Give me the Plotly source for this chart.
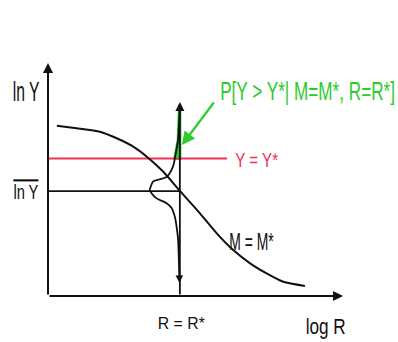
import plotly.graph_objects as go

# Median ln Y versus log R for the scenario magnitude M = M*
curve_logr = [0.30, 0.97, 1.76, 2.33, 2.89, 3.35, 3.91, 4.47, 5.15, 5.72, 6.28, 6.85, 7.41, 7.98, 8.71]
curve_lny = [7.31, 7.20, 7.05, 6.77, 6.41, 5.98, 5.33, 4.51, 3.55, 2.69, 1.97, 1.40, 0.97, 0.61, 0.43]

# Distribution of ln Y at R = R*, drawn sideways (width measured leftwards from R*)
pdf_lny = [8.20, 7.55, 6.70, 6.14, 5.92, 5.75, 5.41, 5.11, 5.01, 4.91, 4.69, 4.55,
           4.41, 4.19, 3.98, 3.78, 3.40, 2.97, 2.40, 1.55, 0.86]
pdf_width = [0.007, 0.024, 0.058, 0.136, 0.17, 0.19, 0.28, 0.45, 0.68, 0.91, 0.99, 1.02,
             0.96, 0.79, 0.45, 0.28, 0.17, 0.11, 0.058, 0.034, 0.02]
pdf_tail_end = 0.56

R_STAR = 4.47
MEAN_LNY = 4.5
Y_STAR = 5.9
RED_END = 6.07
X_MAX = 10.0
Y_MAX = 10.0
R_ARROW_TOP = 8.33

W, H = 398, 342
# axis frame: origin and unit sizes in pixels
X0_PX, Y0_PX = 48, 296
PX_PER_X, PX_PER_Y = 29.5, 23.3
X_RANGE = [-X0_PX / PX_PER_X, (W - X0_PX) / PX_PER_X]
Y_RANGE = [-(H - Y0_PX) / PX_PER_Y, Y0_PX / PX_PER_Y]

FONT = "Liberation Sans, Arial, sans-serif"
BLACK = "#111111"
RED = "#f03058"
GREEN = "#2ccc2c"

fig = go.Figure()

# exceedance region of the distribution above Y*
up_y = [y for y in pdf_lny if y >= Y_STAR]
up_w = pdf_width[:len(up_y)]
fill_x = [R_STAR - w for w in up_w] + [R_STAR, R_STAR]
fill_y = up_y + [Y_STAR, up_y[0]]
fig.add_trace(go.Scatter(x=fill_x, y=fill_y, mode="lines", fill="toself",
                         fillcolor=GREEN, line=dict(color=GREEN, width=3),
                         hoverinfo="skip"))

# horizontal lines: mean ln Y and threshold Y*
fig.add_trace(go.Scatter(x=[0, R_STAR], y=[MEAN_LNY, MEAN_LNY], mode="lines",
                         line=dict(color=BLACK, width=1.8)))
fig.add_trace(go.Scatter(x=[0, RED_END], y=[Y_STAR, Y_STAR], mode="lines",
                         line=dict(color=RED, width=2)))

# attenuation curve
fig.add_trace(go.Scatter(x=curve_logr, y=curve_lny, mode="lines",
                         line=dict(color=BLACK, width=2, shape="spline", smoothing=0.6)))

# sideways distribution
fig.add_trace(go.Scatter(x=[R_STAR - w for w in pdf_width], y=pdf_lny, mode="lines",
                         line=dict(color=BLACK, width=1.8, shape="spline", smoothing=0.5)))


def arrow(x0, y0, x1, y1, color=BLACK, width=1.8, size=1.0):
    fig.add_annotation(x=x1, y=y1, ax=x0, ay=y0, xref="x", yref="y", axref="x", ayref="y",
                       text="", showarrow=True, arrowhead=2, arrowsize=size,
                       arrowwidth=width, arrowcolor=color, standoff=0, startstandoff=0,
                       name="1")


# axes
arrow(0, 0, X_MAX, 0, width=2)
arrow(0, 0, 0, Y_MAX, width=2)
# vertical line at R = R*
arrow(R_STAR, 0, R_STAR, R_ARROW_TOP, width=1.8)
# lower tail of the distribution
arrow(R_STAR - pdf_width[-1], pdf_lny[-1], R_STAR - 0.01, pdf_tail_end, width=1.5)
# pointer to the exceedance probability
arrow(5.66, 8.37, 4.54, 6.48, color=GREEN, width=2.2, size=1.2)


def label(x, y, text, size, squeeze, color=BLACK):
    # squeeze: horizontal condensing factor applied after rendering
    fig.add_annotation(x=x, y=y, xref="x", yref="y", text=text, showarrow=False,
                       xanchor="center", yanchor="middle", name=str(squeeze),
                       font=dict(family=FONT, size=size, color=color))


label(-0.75, 8.76, "ln Y", 27, 0.58)
label(-0.73, MEAN_LNY, "<span style='text-decoration:overline'>ln Y</span>", 21, 0.7)
label(7.07, Y_STAR - 0.02, "Y = Y*", 21, 0.72, color=RED)
label(8.81, 8.80, "P[Y &gt; Y*| M=M*, R=R*]", 26, 0.66, color=GREEN)
label(6.90, 2.32, "M = M*", 24, 0.58)
label(4.53, -1.20, "R = R*", 17, 0.93)
label(9.39, -1.29, "log R", 22, 0.78)

fig.update_layout(
    width=W, height=H,
    margin=dict(l=0, r=0, t=0, b=0),
    paper_bgcolor="white", plot_bgcolor="white",
    showlegend=False,
    xaxis=dict(range=X_RANGE, visible=False, fixedrange=True),
    yaxis=dict(range=Y_RANGE, visible=False, fixedrange=True),
)

# condensed lettering: scale each label horizontally about its centre
condense_js = """
var gd = document.getElementById('{plot_id}');
var anns = gd.layout.annotations || [];
gd.querySelectorAll('g.annotation').forEach(function (g) {
  var i = +g.getAttribute('data-index');
  var s = parseFloat((anns[i] || {}).name || '1');
  if (!(s > 0) || s === 1) return;
  var t = g.querySelector('text.annotation-text');
  if (!t) return;
  t.style.transformBox = 'fill-box';
  t.style.transformOrigin = '50% 50%';
  t.style.transform = 'scaleX(' + s + ')';
});
"""

fig.write_html("out.html", post_script=condense_js)
